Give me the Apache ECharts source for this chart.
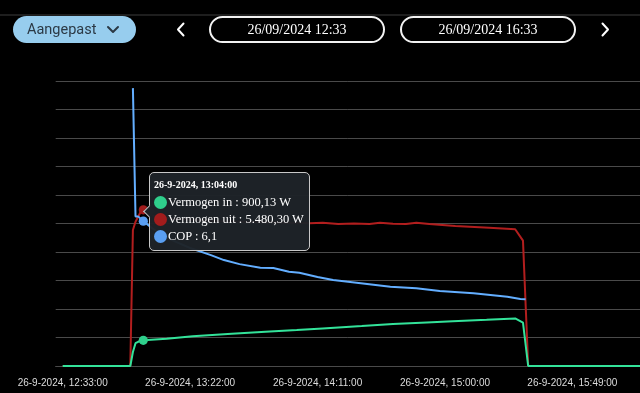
<!DOCTYPE html>
<html>
<head>
<meta charset="utf-8">
<script src="https://cdn.jsdelivr.net/npm/echarts@6/dist/echarts.min.js"></script>
<style>
  html, body { margin:0; padding:0; background:#000; width:640px; height:393px; overflow:hidden; }
  #chart { position:absolute; left:0; top:0; width:640px; height:393px; }
  #header { position:absolute; left:0; top:0; width:640px; height:50px; z-index:5; pointer-events:none; }
  .pill { position:absolute; top:16px; height:27px; border-radius:14px; box-sizing:border-box; }
  #mode { left:13px; width:123px; background:#97cdee; }
  #mode span { position:absolute; left:14px; top:0; line-height:27px; font-family:Roboto, sans-serif; font-size:14.5px; color:#2b3945; }
  .date { border:2px solid #f2f2f2; width:176px; text-align:center; font-family:"Liberation Serif", serif; font-size:14px; color:#fff; line-height:23px; }
  #d1 { left:209px; }
  #d2 { left:400px; }
</style>
</head>
<body>
<div id="chart"></div>
<div id="header">
  <svg width="640" height="50" style="position:absolute;left:0;top:0">
    <line x1="0" y1="15" x2="640" y2="15" stroke="#3c3c3c" stroke-width="1"/>
  </svg>
  <div id="mode" class="pill"><span>Aangepast</span></div>
  <div id="d1" class="pill date">26/09/2024 12:33</div>
  <div id="d2" class="pill date">26/09/2024 16:33</div>
  <svg width="640" height="50" style="position:absolute;left:0;top:0">
    <polyline points="108,27 113,32 118,27" fill="none" stroke="#2b3945" stroke-width="2" stroke-linecap="round" stroke-linejoin="round"/>
    <polyline points="183.5,23.5 178,29.5 183.5,35.5" fill="none" stroke="#fff" stroke-width="2" stroke-linecap="round" stroke-linejoin="round"/>
    <polyline points="602.5,23.5 608,29.5 602.5,35.5" fill="none" stroke="#fff" stroke-width="2" stroke-linecap="round" stroke-linejoin="round"/>
  </svg>
</div>
<script>
// Time axis: minutes after 26-9-2024 12:33:00
var startHour = 12, startMinute = 33, dateText = '26-9-2024';
var tickMinutes = [0, 49, 98, 147, 196];

// Vermogen in (W)
var inMinutes = [0, 26, 27, 28, 29, 31, 40, 50, 65, 78, 90, 100, 115, 127, 140, 150, 163, 174, 177, 179, 222];
var inValues  = [0, 0, 490, 800, 850, 900.13, 960, 1040, 1130, 1204, 1265, 1320, 1400, 1474, 1530, 1570, 1620, 1670, 1520, 0, 0];

// Vermogen uit (W)
var outMinutes = [0, 26, 27, 28, 30, 31, 33, 36, 45, 60, 75, 95, 100, 106, 112, 118, 122, 127, 132, 136, 141, 151, 164, 174, 177, 179, 222];
var outValues  = [0, 0, 4770, 5060, 5410, 5480.30, 5350, 5230, 5150, 5080, 5050, 5010, 5030, 4985, 5000, 4985, 5030, 4990, 4985, 5030, 4985, 4910, 4855, 4800, 4400, 0, 0];

// COP
var copMinutes = [27, 28, 29, 31, 35, 42, 49, 57, 62, 68, 76, 81, 87, 91, 98, 104, 113, 126, 136, 145, 158, 171, 176, 178];
var copValues  = [11.7, 6.3, 6.3, 6.1, 5.75, 5.3, 4.97, 4.67, 4.46, 4.29, 4.14, 4.13, 3.97, 3.93, 3.75, 3.62, 3.51, 3.34, 3.27, 3.16, 3.06, 2.92, 2.82, 2.81];

var seriesNames = ['Vermogen in', 'Vermogen uit', 'COP'];
var seriesColors = ['#2fcf8c', '#a21c1c', '#5a9ff2'];
var tooltipMinute = 31;

function pairs(xs, ys) { return xs.map(function (x, i) { return [x, ys[i]]; }); }
function pad(n) { return (n < 10 ? '0' : '') + n; }
function timeLabel(m) {
  var t = startHour * 60 + startMinute + Math.round(m);
  return dateText + ', ' + pad(Math.floor(t / 60)) + ':' + pad(t % 60) + ':00';
}
function fmtNum(v, dec) {
  var s = v.toFixed(dec), parts = s.split('.');
  var ip = parts[0].replace(/\B(?=(\d{3})+(?!\d))/g, '.');
  return dec > 0 ? ip + ',' + parts[1] : ip;
}

var chart = echarts.init(document.getElementById('chart'), null, { renderer: 'canvas' });
var option = {
  animation: false,
  backgroundColor: '#000',
  grid: { left: 55.7, right: 0, top: 81, bottom: 27, containLabel: false },
  tooltip: {
    trigger: 'axis',
    triggerOn: 'none',
    alwaysShowContent: true,
    transitionDuration: 0,
    axisPointer: { type: 'none' },
    backgroundColor: 'rgba(30,35,40,0.97)',
    borderColor: '#c8c8c8',
    borderWidth: 1,
    padding: [5, 5, 5, 4],
    extraCssText: 'border-radius:5px;box-shadow:none;',
    position: function () { return [149, 172]; },
    formatter: function (params) {
      var html = '<div style="position:absolute;left:-5px;top:34px;width:8px;height:8px;background:rgb(30,35,40);border-left:1px solid #c8c8c8;border-bottom:1px solid #c8c8c8;transform:rotate(45deg)"></div>';
      html += '<div style="font-family:\'Liberation Serif\',serif;font-weight:bold;font-size:10px;line-height:14px;color:#fff;margin-bottom:2.4px">' + timeLabel(params[0].axisValue) + '</div>';
      params.forEach(function (p) {
        var v = p.value[1];
        var txt = p.seriesIndex === 2 ? fmtNum(v, 1) : fmtNum(v, 2) + ' W';
        html += '<div style="font-family:\'Liberation Serif\',serif;font-size:12.5px;line-height:16.7px;color:#fff;white-space:nowrap;display:flex;align-items:center">' +
          '<span style="display:inline-block;width:13px;height:13px;border-radius:50%;background:' + p.color + ';margin-right:1px"></span>' +
          p.seriesName + ' : ' + txt + '</div>';
      });
      return html;
    }
  },
  xAxis: {
    type: 'value',
    min: -2.69,
    max: 222,
    splitLine: { show: false },
    axisTick: { show: false },
    axisLine: { show: true, lineStyle: { color: '#4a4a4a', width: 1 } },
    axisLabel: {
      customValues: tickMinutes,
      formatter: function (v) { return timeLabel(v); },
      color: '#dcdcdc',
      fontFamily: 'Liberation Sans, Arial, sans-serif',
      fontSize: 10,
      margin: 12
    }
  },
  yAxis: [
    {
      type: 'value', min: 0, max: 10000, interval: 1000,
      axisLabel: { show: false }, axisTick: { show: false }, axisLine: { show: false },
      splitLine: { show: true, lineStyle: { color: '#4a4a4a', width: 1 } }
    },
    {
      type: 'value', min: 0, max: 12, interval: 1.2,
      axisLabel: { show: false }, axisTick: { show: false }, axisLine: { show: false },
      splitLine: { show: false }
    }
  ],
  series: [
    {
      name: seriesNames[0], type: 'line', yAxisIndex: 0, data: pairs(inMinutes, inValues), z: 4,
      showSymbol: false, symbol: 'circle', symbolSize: 8,
      lineStyle: { width: 2, color: seriesColors[0] }, itemStyle: { color: seriesColors[0] },
      emphasis: { scale: 1.15, lineStyle: { width: 2 } }
    },
    {
      name: seriesNames[1], type: 'line', yAxisIndex: 0, data: pairs(outMinutes, outValues), z: 2,
      showSymbol: false, symbol: 'circle', symbolSize: 8,
      lineStyle: { width: 2, color: seriesColors[1] }, itemStyle: { color: seriesColors[1] },
      emphasis: { scale: 1.15, lineStyle: { width: 2 } }
    },
    {
      name: seriesNames[2], type: 'line', yAxisIndex: 1, data: pairs(copMinutes, copValues), z: 3,
      showSymbol: false, symbol: 'circle', symbolSize: 8,
      lineStyle: { width: 2, color: seriesColors[2] }, itemStyle: { color: seriesColors[2] },
      emphasis: { scale: 1.15, lineStyle: { width: 2 } }
    }
  ]
};
chart.setOption(option);
chart.dispatchAction({ type: 'showTip', seriesIndex: 0, dataIndex: inMinutes.indexOf(tooltipMinute) });
</script>
</body>
</html>
